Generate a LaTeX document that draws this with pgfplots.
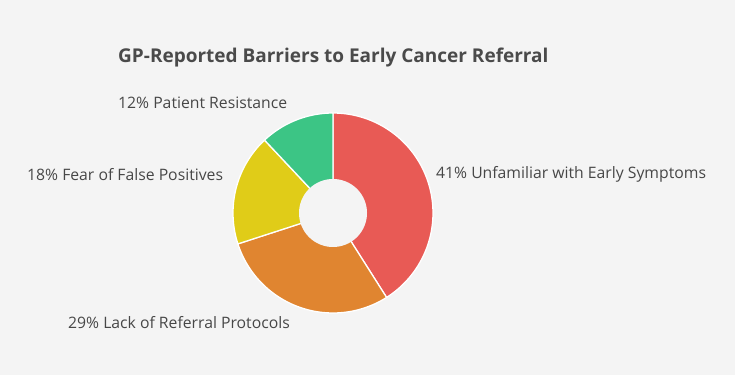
\documentclass[border=0pt]{standalone}
\usepackage{pgfplots}
\pgfplotsset{compat=1.18}
\usepackage{fontspec}
\setmainfont{Open Sans}
\definecolor{bg}{HTML}{F4F4F4}
\definecolor{txt}{HTML}{474747}
\definecolor{ttl}{HTML}{4A4A4A}
\definecolor{cRed}{HTML}{E85A55}
\definecolor{cOrange}{HTML}{E08530}
\definecolor{cYellow}{HTML}{E0CC18}
\definecolor{cGreen}{HTML}{3CC585}
% slice: #1 cumulative percent before, #2 percent, #3 colour
\newcommand{\slice}[3]{%
  \addplot[fill=#3, draw=white, line width=1.3bp, line join=round, domain=0:81, samples=82, variable=\t]
    ({\t<0.5 ? 333 : 333+100*cos(90-3.6*#1 - (\t-1)*3.6*#2/80)},
     {\t<0.5 ? 162 : 162+100*sin(90-3.6*#1 - (\t-1)*3.6*#2/80)}) -- cycle;}
\begin{document}
\begin{tikzpicture}
\fill[bg] (0,0) rectangle (735bp,375bp);
\begin{axis}[width=735bp, height=375bp, scale only axis, xmin=0, xmax=735, ymin=0, ymax=375, hide axis, clip=false]
\slice{0}{41}{cRed}
\slice{41}{29}{cOrange}
\slice{70}{18}{cYellow}
\slice{88}{12}{cGreen}
\addplot[fill=bg, draw=none, domain=0:360, samples=120] ({333+34*cos(x)},{162+34*sin(x)}) -- cycle;
\node[anchor=base west, inner sep=0pt, text=ttl, font=\fontsize{19bp}{23bp}\selectfont\bfseries] at (axis cs:118,312) {GP-Reported Barriers to Early Cancer Referral};
\node[anchor=base west, inner sep=0pt, text=txt, font=\fontsize{15.75bp}{19bp}\selectfont] at (axis cs:436,196.7) {41\% Unfamiliar with Early Symptoms};
\node[anchor=base west, inner sep=0pt, text=txt, font=\fontsize{15.75bp}{19bp}\selectfont] at (axis cs:68,46.7) {29\% Lack of Referral Protocols};
\node[anchor=base west, inner sep=0pt, text=txt, font=\fontsize{15.75bp}{19bp}\selectfont] at (axis cs:27,194) {18\% Fear of False Positives};
\node[anchor=base west, inner sep=0pt, text=txt, font=\fontsize{15.75bp}{19bp}\selectfont] at (axis cs:118,266) {12\% Patient Resistance};
\end{axis}
\end{tikzpicture}
\end{document}
